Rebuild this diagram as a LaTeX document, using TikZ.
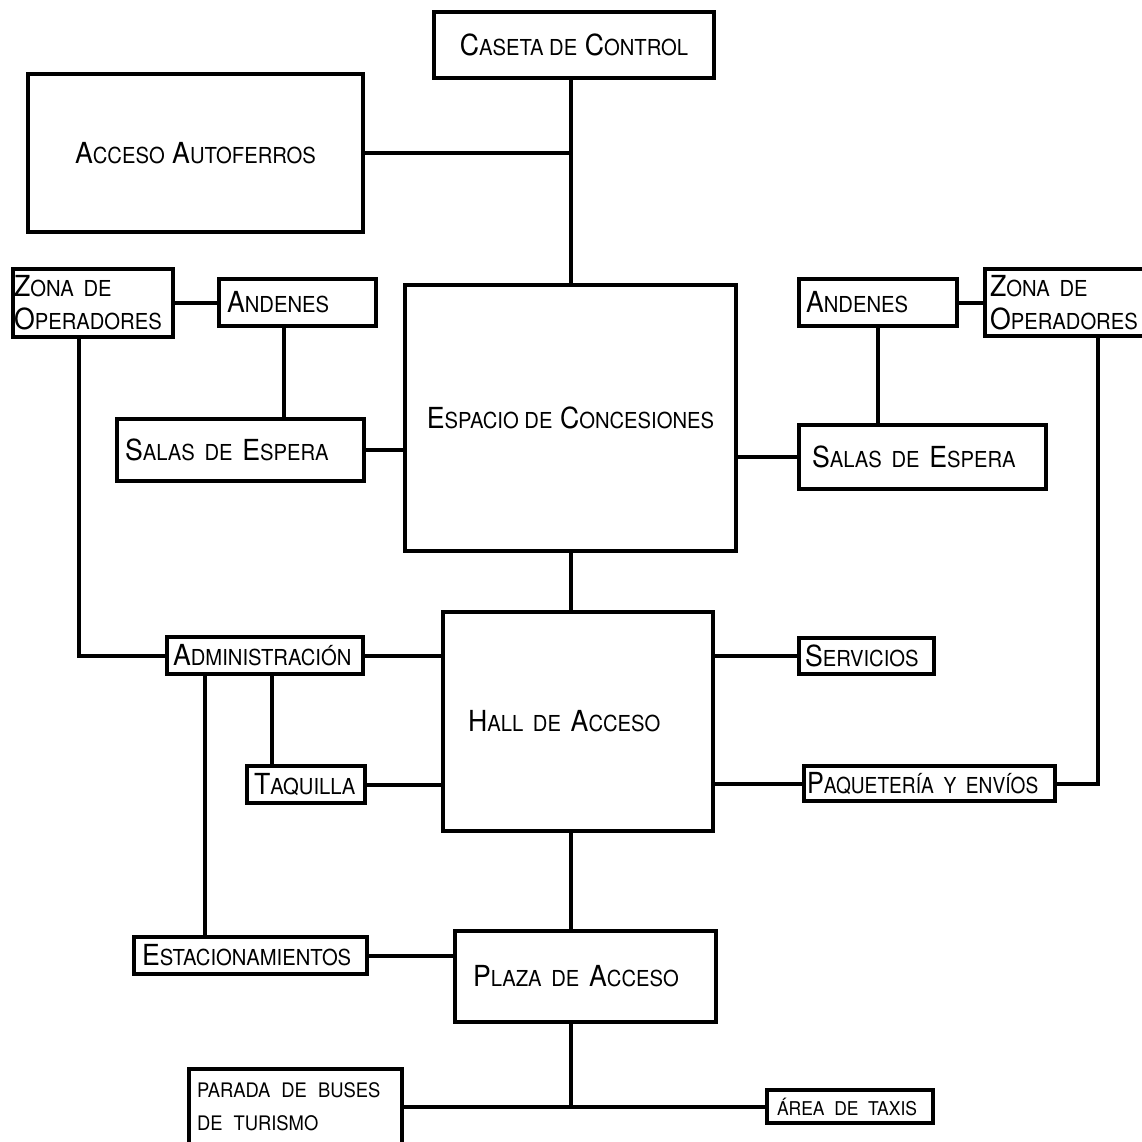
\documentclass[tikz,border=0pt]{standalone}
\usepackage{fontspec}
\setmainfont[FakeStretch=0.92]{TeX Gyre Heros}
\usepackage{tikz}
\usetikzlibrary{positioning}
\newcommand{\scword}[1]{{\fontsize{22}{33}\selectfont\MakeUppercase{#1}}}
\newcommand{\tinyword}[1]{{\fontsize{20}{37}\selectfont\spaceskip=11pt\MakeUppercase{#1}}}

\begin{document}
\begin{tikzpicture}[x=1pt,y=-1pt,line width=4pt,
	main node/.style={draw,rectangle,line width=4.5pt,inner sep=0pt,font=\fontsize{29}{33}\selectfont},
	left node/.style={main node,align=left}]

			\useasboundingbox (0,0) rectangle (1142,1142);
			\clip (0,0) rectangle (1142,1142);
			\fill[white] (0,0) rectangle (1142,1142);

			\node[main node,minimum width=280pt,minimum height=66pt] (1) at (574,45) {C\scword{aseta de} C\scword{ontrol}};
			\node[main node,minimum width=335pt,minimum height=158pt] (2) at (195.5,153) {A\scword{cceso} A\scword{utoferros}};
			\node[main node,minimum width=331pt,minimum height=266pt] (3) at (570.5,418) {E\scword{spacio de} C\scword{oncesiones}};

			\node[left node,text width=158pt,inner xsep=1pt,minimum height=68pt] (4) at (93,303) {Z\scword{ona de}\\O\scword{peradores}};
			\node[left node,text width=141pt,inner xsep=8pt,minimum height=47pt] (5) at (297.5,302.5) {A\scword{ndenes}};
			\node[left node,text width=231pt,inner xsep=8pt,minimum height=62pt] (6) at (240.5,450) {S\scword{alas de} E\scword{spera}};

			\node[left node,text width=144pt,inner xsep=7pt,minimum height=47pt] (7) at (878,302.5) {A\scword{ndenes}};
			\node[left node,text width=150pt,inner xsep=5pt,minimum height=67pt] (8) at (1065,302.5) {Z\scword{ona de}\\O\scword{peradores}};
			\node[left node,text width=221pt,inner xsep=13pt,minimum height=64pt] (9) at (922.5,457) {S\scword{alas de} E\scword{spera}};

			\node[left node,text width=220pt,inner xsep=25pt,minimum height=219pt] (10) at (578,721.5) {H\scword{all de} A\scword{cceso}};
			\node[left node,text width=184pt,inner xsep=6pt,minimum height=37pt] (11) at (265,655.5) {\mbox{A\scword{dministración}}};
			\node[left node,text width=104pt,inner xsep=7pt,minimum height=37pt] (12) at (306,784.5) {\mbox{T\scword{aquilla}}};
			\node[left node,text width=217pt,inner xsep=8pt,minimum height=37pt] (13) at (250.5,955.5) {\mbox{E\scword{stacionamientos}}};
			\node[left node,text width=225pt,inner xsep=18pt,minimum height=91pt] (14) at (585.5,976.5) {P\scword{laza de} A\scword{cceso}};

			\node[left node,text width=123pt,inner xsep=6pt,minimum height=36pt] (15) at (866.5,656) {\mbox{S\scword{ervicios}}};
			\node[left node,text width=245pt,inner xsep=3pt,minimum height=35pt] (16) at (929.5,783.5) {\mbox{\addfontfeature{FakeStretch=0.87}P\scword{aquetería y envíos}}};
			\node[left node,text width=197pt,inner xsep=8pt,minimum height=76pt] (17) at (295.5,1107) {\mbox{\tinyword{parada de buses}}\\\tinyword{de turismo}};
			\node[left node,text width=146pt,inner xsep=10pt,minimum height=33pt] (18) at (850,1106.5) {\mbox{{\fontsize{19}{37}\selectfont ÁREA DE TAXIS}}};

			\coordinate (a) at (284,0);
			\coordinate (b) at (79,0);
			\coordinate (c) at (272,0);
			\coordinate (d) at (205,0);
			\coordinate (e) at (1098,0);

			\path
			(3.north |- 1.south) edge (3.north)
			(2.east) edge (2.east -| 3.north)
			(4.east) edge (4.east -| 5.west)
			(a |- 5.south) edge (a |- 6.north)
			(6.east) edge (6.east -| 3.west)
			(7.east) edge (7.east -| 8.west)
			(7.south) edge (7.south |- 9.north)
			(9.west -| 3.east) edge (9.west)
			(3.south) edge (3.south |- 10.north)
			(11.east) edge (11.east -| 10.west)
			(c |- 11.south) edge (c |- 12.north)
			(12.east) edge (12.east -| 10.west)
			(d |- 11.south) edge (d |- 13.north)
			(13.east) edge (13.east -| 14.west)
			(3.south |- 10.south) edge (3.south |- 14.north)
			(15.west -| 10.east) edge (15.west)
			(16.west -| 10.east) edge (16.west)
			(3.south |- 14.south) edge (3.south |- 18.west)
			(18.west -| 17.east) edge (18.west);

			\draw (b |- 4.south) |- (11.west);
			\draw (16.east) -| (e |- 8.south);
		\end{tikzpicture}
\end{document}
